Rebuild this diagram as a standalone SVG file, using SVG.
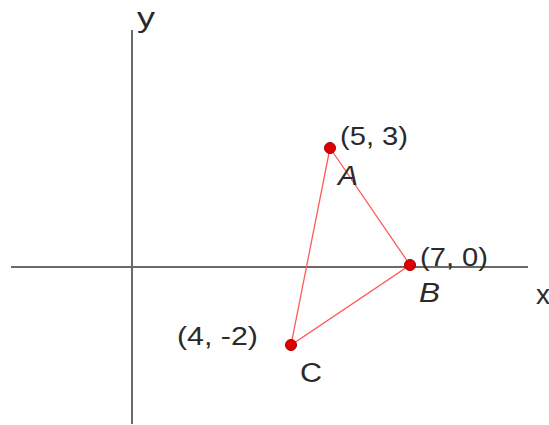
<svg xmlns="http://www.w3.org/2000/svg" width="549" height="425" viewBox="0 0 549 425">
<style>
.ax{stroke:#6a6a6a;stroke-width:2;fill:none}
.tri{stroke:#ff5a5a;stroke-width:1.3;fill:none}
.pt{fill:#e00000;stroke:#a00000;stroke-width:1}
text{font-family:"Liberation Sans",Arial,sans-serif;font-size:25px;fill:#2a2a2a}
.lb{font-size:27px}
.it{font-style:italic}
</style>
<rect width="549" height="425" fill="#fff"/>
<g id="axes">
<line class="ax" x1="132" y1="30" x2="132" y2="424"/>
<line class="ax" x1="11" y1="267" x2="528" y2="267"/>
<text class="lb" x="137" y="27" textLength="18" lengthAdjust="spacingAndGlyphs">y</text>
<text class="lb" x="536" y="304" textLength="14" lengthAdjust="spacingAndGlyphs">x</text>
</g>
<g id="connectors">
<polyline class="tri" points="330,148 410,265 291,345 330,148"/>
</g>
<g id="A"><circle class="pt" cx="330" cy="148" r="5.5"/><text x="340" y="145" textLength="68" lengthAdjust="spacingAndGlyphs">(5, 3)</text><text class="lb it" x="338" y="185" textLength="20" lengthAdjust="spacingAndGlyphs">A</text></g>
<g id="B"><circle class="pt" cx="410" cy="265" r="5.5"/><text x="420" y="266" textLength="68" lengthAdjust="spacingAndGlyphs">(7, 0)</text><text class="lb it" x="419" y="302" textLength="21" lengthAdjust="spacingAndGlyphs">B</text></g>
<g id="C"><circle class="pt" cx="291" cy="345" r="5.5"/><text x="177" y="345" textLength="81" lengthAdjust="spacingAndGlyphs">(4, -2)</text><text class="lb" x="300" y="382" textLength="22" lengthAdjust="spacingAndGlyphs">C</text></g>
</svg>
